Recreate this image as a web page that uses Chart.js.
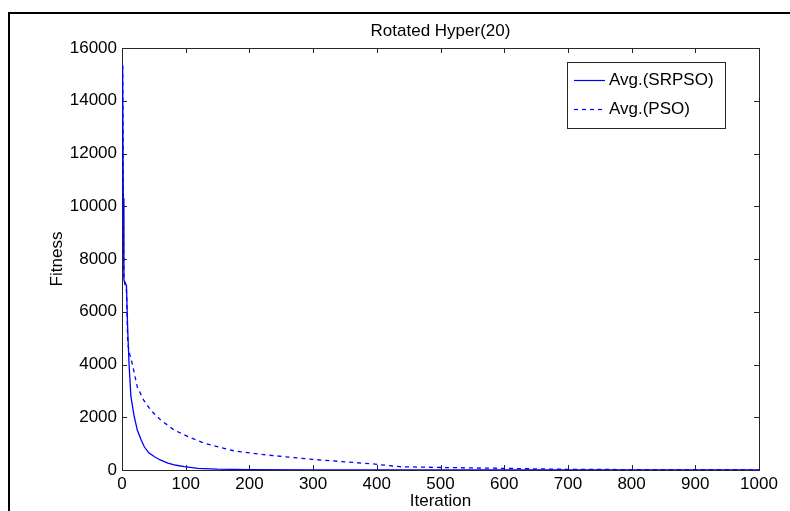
<!DOCTYPE html>
<html>
<head>
<meta charset="utf-8">
<script src="https://cdn.jsdelivr.net/npm/chart.js@4"></script>
<style>
  html, body { margin: 0; padding: 0; background: #fff; }
  #wrap { position: relative; width: 790px; height: 511px; overflow: hidden; }
  #frame { position: absolute; left: 8px; top: 12px; width: 800px; height: 520px;
           border-left: 2px solid #000; border-top: 2px solid #000; }
  canvas { position: absolute; left: 0; top: 0; }
</style>
</head>
<body>
<div id="wrap">
  <div id="frame"></div>
  <canvas id="graph" width="790" height="511"></canvas>
</div>
<script>
const titleText = 'Rotated Hyper(20)';
const xTitle = 'Iteration';
const yTitle = 'Fitness';

// average best fitness per iteration
const srpsoIter = [1, 2, 3, 7, 9, 11, 14, 19, 24, 30, 35, 42, 51, 60, 72, 85, 98, 119, 150, 200, 300, 500, 1000];
const srpsoFit = [15340, 10300, 7200, 7000, 5300, 4050, 2780, 2050, 1515, 1150, 880, 650, 500, 380, 265, 180, 125, 60, 30, 15, 8, 6, 5];

const psoIter = [1, 2, 3, 7, 9, 12, 16, 24, 34, 45, 61, 82, 104, 130, 151, 175, 227, 300, 350, 394, 436, 500, 593, 697, 800, 900, 1000];
const psoFit = [15340, 10300, 7200, 6800, 4800, 4400, 4040, 3150, 2650, 2270, 1890, 1515, 1260, 1010, 880, 730, 570, 400, 310, 230, 125, 95, 65, 27, 15, 10, 8];

const xTicks = [0, 100, 200, 300, 400, 500, 600, 700, 800, 900, 1000];
const yTicks = [0, 2000, 4000, 6000, 8000, 10000, 12000, 14000, 16000];

const toPoints = (xs, ys) => xs.map((x, i) => ({ x: x, y: ys[i] }));

const FONT = 'Liberation Sans, Arial, Helvetica, sans-serif';
const FSIZE = 17;
const INK = '#262626';

// axes box with inward ticks, drawn under the curves
const axesBox = {
  id: 'axesBox',
  beforeDatasetsDraw(chart) {
    const { ctx, chartArea: a, scales } = chart;
    ctx.save();
    ctx.strokeStyle = INK;
    ctx.lineWidth = 1;
    ctx.strokeRect(a.left + 0.5, a.top + 0.5, a.right - a.left, a.bottom - a.top);

    const tl = 5;
    ctx.beginPath();
    xTicks.forEach(v => {
      const px = Math.round(scales.x.getPixelForValue(v)) + 0.5;
      ctx.moveTo(px, a.bottom); ctx.lineTo(px, a.bottom - tl);
      ctx.moveTo(px, a.top); ctx.lineTo(px, a.top + tl);
    });
    yTicks.forEach(v => {
      const py = Math.round(scales.y.getPixelForValue(v)) + 0.5;
      ctx.moveTo(a.left, py); ctx.lineTo(a.left + tl, py);
      ctx.moveTo(a.right, py); ctx.lineTo(a.right - tl, py);
    });
    ctx.stroke();
    ctx.restore();
  }
};

// titles and boxed legend on top
const labelsAndLegend = {
  id: 'labelsAndLegend',
  afterDraw(chart) {
    const { ctx, chartArea: a } = chart;
    ctx.save();
    ctx.fillStyle = '#000';
    ctx.font = FSIZE + 'px ' + FONT;
    ctx.textAlign = 'center';
    ctx.textBaseline = 'middle';
    ctx.fillText(titleText, (a.left + a.right) / 2, 31);
    ctx.fillText(xTitle, (a.left + a.right) / 2, 501);
    ctx.save();
    ctx.translate(57, (a.top + a.bottom) / 2);
    ctx.rotate(-Math.PI / 2);
    ctx.fillText(yTitle, 0, 0);
    ctx.restore();

    const lx = 567, ly = 62, lw = 158, lh = 66;
    ctx.fillStyle = '#fff';
    ctx.fillRect(lx, ly, lw, lh);
    ctx.strokeStyle = INK;
    ctx.lineWidth = 1;
    ctx.strokeRect(lx + 0.5, ly + 0.5, lw, lh);
    chart.data.datasets.forEach((ds, i) => {
      const y = ly + 18 + i * 29;
      ctx.beginPath();
      ctx.strokeStyle = ds.borderColor;
      ctx.lineWidth = 1.2;
      ctx.setLineDash(ds.borderDash || []);
      ctx.moveTo(574, y + 0.5); ctx.lineTo(605, y + 0.5);
      ctx.stroke();
      ctx.setLineDash([]);
      ctx.fillStyle = '#000';
      ctx.textAlign = 'left';
      ctx.fillText(ds.label, 609, y);
    });
    ctx.restore();
  }
};

const tickFont = { family: FONT, size: FSIZE };

new Chart(document.getElementById('graph').getContext('2d'), {
  type: 'line',
  data: {
    datasets: [
      {
        label: 'Avg.(PSO)',
        data: toPoints(psoIter, psoFit),
        borderColor: '#0000ff',
        borderWidth: 1.3,
        borderDash: [4, 4],
        pointRadius: 0,
        tension: 0,
        order: 2
      },
      {
        label: 'Avg.(SRPSO)',
        data: toPoints(srpsoIter, srpsoFit),
        borderColor: '#0000ff',
        borderWidth: 1.3,
        pointRadius: 0,
        tension: 0,
        order: 1
      }
    ].reverse()
  },
  options: {
    responsive: false,
    animation: false,
    layout: { padding: { top: 48, right: 31, left: 0, bottom: 0 } },
    plugins: {
      legend: { display: false },
      title: { display: false },
      tooltip: { enabled: false }
    },
    scales: {
      x: {
        type: 'linear',
        min: 0, max: 1000,
        afterFit: s => { s.height = 41; },
        afterBuildTicks: s => { s.ticks = xTicks.map(v => ({ value: v })); },
        grid: { display: false, drawTicks: false },
        border: { display: true, color: INK },
        ticks: { color: '#000', font: tickFont, padding: 4, maxRotation: 0, callback: v => String(v) }
      },
      y: {
        min: 0, max: 16000,
        afterFit: s => { s.width = 122; },
        afterBuildTicks: s => { s.ticks = yTicks.map(v => ({ value: v })); },
        grid: { display: false, drawTicks: false },
        border: { display: true, color: INK },
        ticks: { color: '#000', font: tickFont, padding: 5, callback: v => String(v) }
      }
    }
  },
  plugins: [axesBox, labelsAndLegend]
});
</script>
</body>
</html>
